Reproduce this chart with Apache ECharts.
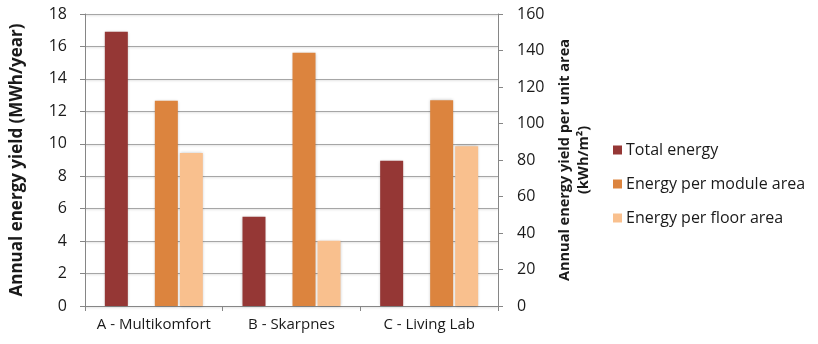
<!DOCTYPE html>
<html>
<head>
<meta charset="utf-8">
<script src="https://cdn.jsdelivr.net/npm/echarts@6/dist/echarts.min.js"></script>
<style>
  html, body { margin: 0; padding: 0; background: #ffffff; }
  #chart { width: 818px; height: 344px; }
</style>
</head>
<body>
<div id="chart"></div>
<script>
// Buildings compared
const categories = ['A - Multikomfort', 'B - Skarpnes', 'C - Living Lab'];

// Annual energy yield, MWh/year (left axis)
const totalEnergy = [16.9, 5.5, 8.95];
// Annual energy yield per unit area, kWh/m² (right axis)
const energyPerModuleArea = [112.4, 138.8, 112.8];
const energyPerFloorArea = [83.8, 35.7, 87.6];
// Empty slot that keeps the gap between the two axis groups
const spacer = [null, null, null];

const leftTicks = { min: 0, max: 18, interval: 2 };
const rightTicks = { min: 0, max: 160, interval: 20 };

const font = '"Open Sans", "Liberation Sans", sans-serif';
const axisGrey = '#868686';
const gridGrey = '#a6a6a6';
const ink = '#1a1a1a';

const barShadow = {
  shadowBlur: 3,
  shadowColor: 'rgba(0,0,0,0.25)',
  shadowOffsetX: 0,
  shadowOffsetY: 0
};

const chart = echarts.init(document.getElementById('chart'), null, { renderer: 'canvas' });

chart.setOption({
  animation: false,
  textStyle: { fontFamily: font },
  grid: { left: 85, right: 320, top: 14, bottom: 38, containLabel: false },
  legend: {
    orient: 'vertical',
    left: 608,
    top: 137,
    itemWidth: 9,
    itemHeight: 9,
    itemGap: 18,
    icon: 'rect',
    data: ['Total energy', 'Energy per module area', 'Energy per floor area'],
    textStyle: { fontFamily: font, fontSize: 16, color: ink, padding: [0, 0, 0, -1] }
  },
  xAxis: {
    type: 'category',
    data: categories,
    boundaryGap: true,
    axisLine: { lineStyle: { color: axisGrey, width: 1 } },
    axisTick: { show: true, length: 5, lineStyle: { color: axisGrey } },
    axisLabel: { fontFamily: font, fontSize: 15, color: ink, margin: 11, interval: 0 },
    splitLine: { show: false }
  },
  yAxis: [
    {
      type: 'value',
      min: leftTicks.min,
      max: leftTicks.max,
      interval: leftTicks.interval,
      position: 'left',
      name: 'Annual energy yield (MWh/year)',
      nameLocation: 'middle',
      nameGap: 59,
      nameRotate: 90,
      nameTextStyle: { fontFamily: font, fontSize: 17, fontWeight: 'bold', color: ink },
      axisLine: { show: true, lineStyle: { color: axisGrey } },
      axisTick: { show: true, length: 5, lineStyle: { color: axisGrey } },
      axisLabel: { fontFamily: font, fontSize: 16, color: ink, margin: 18 },
      splitLine: {
        show: true,
        lineStyle: { color: gridGrey, width: 1.2, shadowBlur: 2, shadowColor: 'rgba(0,0,0,0.15)', shadowOffsetY: 1 }
      }
    },
    {
      type: 'value',
      min: rightTicks.min,
      max: rightTicks.max,
      interval: rightTicks.interval,
      position: 'right',
      name: 'Annual energy yield per unit area\n(kWh/m²)',
      nameLocation: 'middle',
      nameGap: 57,
      nameRotate: 90,
      nameTextStyle: { fontFamily: font, fontSize: 14.5, fontWeight: 'bold', color: ink, lineHeight: 19 },
      axisLine: { show: true, lineStyle: { color: axisGrey } },
      axisTick: { show: true, length: 5, lineStyle: { color: axisGrey } },
      axisLabel: { fontFamily: font, fontSize: 16, color: ink, margin: 19 },
      splitLine: { show: false }
    }
  ],
  series: [
    {
      name: 'Total energy',
      type: 'bar',
      yAxisIndex: 0,
      data: totalEnergy,
      barWidth: 23,
      barGap: '8.7%',
      itemStyle: Object.assign({ color: '#953735' }, barShadow)
    },
    {
      name: 'spacer',
      type: 'bar',
      yAxisIndex: 1,
      data: spacer,
      barWidth: 23,
      barGap: '8.7%',
      silent: true
    },
    {
      name: 'Energy per module area',
      type: 'bar',
      yAxisIndex: 1,
      data: energyPerModuleArea,
      barWidth: 23,
      barGap: '8.7%',
      itemStyle: Object.assign({ color: '#dc843e' }, barShadow)
    },
    {
      name: 'Energy per floor area',
      type: 'bar',
      yAxisIndex: 1,
      data: energyPerFloorArea,
      barWidth: 23,
      barGap: '8.7%',
      itemStyle: Object.assign({ color: '#f9c08e' }, barShadow)
    }
  ]
});
</script>
</body>
</html>
